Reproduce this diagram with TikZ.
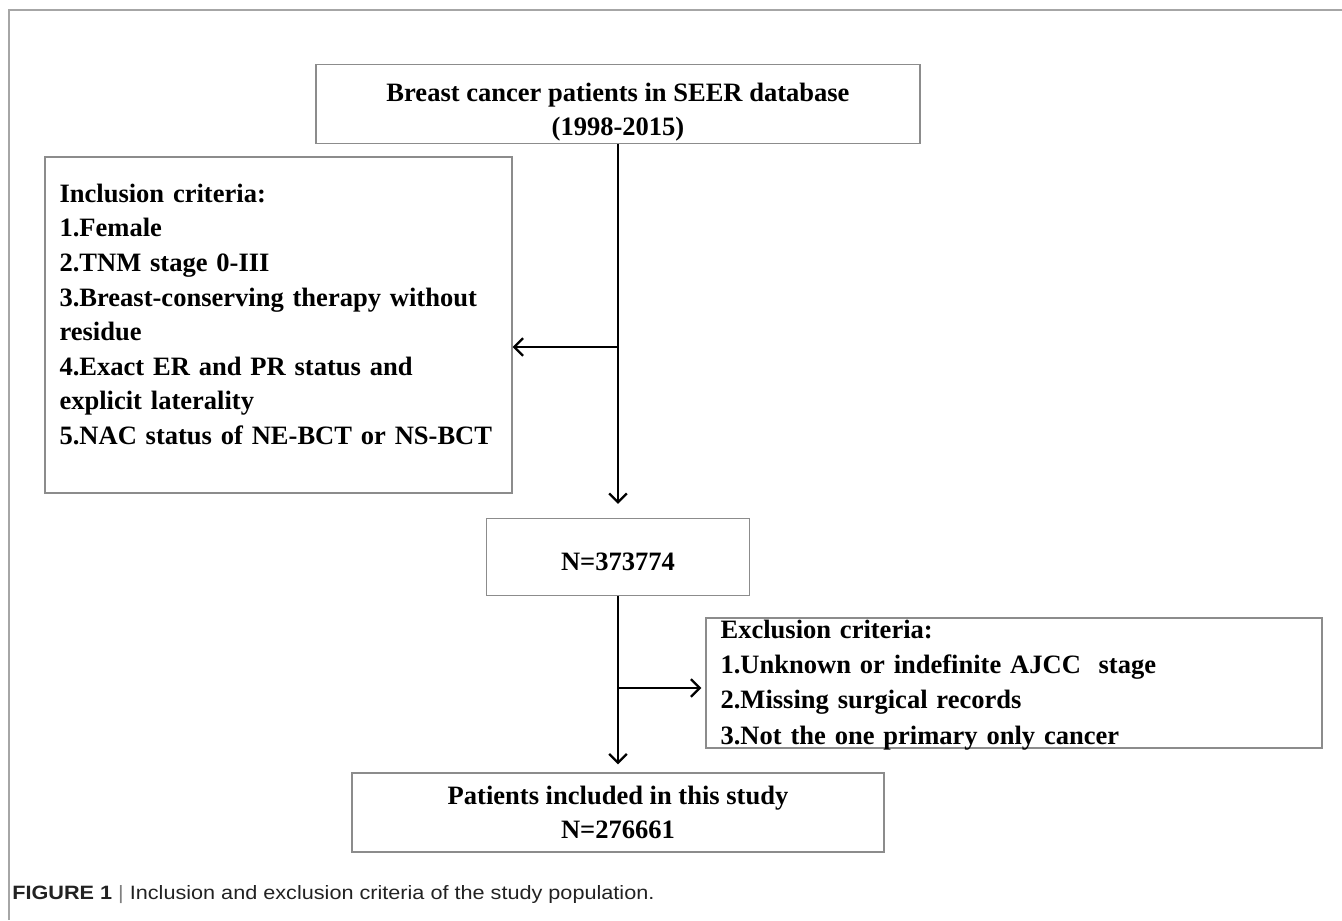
\documentclass[tikz,border=0pt]{standalone}
\usepackage{fontspec}
\setmainfont{Liberation Serif}
\setsansfont{Liberation Sans}[FakeStretch=1.12]
\usetikzlibrary{arrows.meta}
\definecolor{edge}{HTML}{8C8C8C}
\definecolor{frame}{HTML}{A6A6A6}
\definecolor{captext}{HTML}{222222}

\begin{document}
\begin{tikzpicture}[
    x=0.02cm, y=-0.02cm,
    box/.style={draw=edge, line width=0.8pt, inner sep=0pt, font=\bfseries\fontsize{15.1}{19.7}\selectfont, align=center},
    listbox/.style={box, align=left, inner xsep=0.29cm},
    arr/.style={-{Straight Barb[length=5pt,width=10pt,line width=1.3pt]}, line width=1.4pt},
]
\useasboundingbox (0,0) rectangle (1342,920);

% Frame
\draw[frame, line width=1.1pt] (9,920) -- (9,10) -- (1342,10);

% Source
\node[box, minimum width=12.08cm, minimum height=1.58cm] (seer) at (618,104) {\rule{0pt}{16.3pt}Breast cancer patients in SEER database\\(1998-2015)\\[-19.7pt]\mbox{}};

% Inclusion
\node[listbox, text width=8.76cm, minimum height=6.72cm] (incl) at (278.5,325) {Inclusion criteria:\\1.Female\\2.TNM stage 0-III\\3.Breast-conserving therapy without\\residue\\4.Exact ER and PR status and\\explicit laterality\\5.NAC status of NE-BCT or NS-BCT\\[-7.3pt]\mbox{}};

% Count after inclusion
\node[box, minimum width=5.26cm, minimum height=1.54cm] (count) at (618,557) {\rule{0pt}{15.6pt}N=373774};

% Exclusion
\node[listbox, text width=11.74cm, minimum height=2.6cm, font=\bfseries\fontsize{15.1}{20}\selectfont] (excl) at (1014,683) {Exclusion criteria:\\1.Unknown or indefinite AJCC\ \ stage\\2.Missing surgical records\\3.Not the one primary only cancer\\[-19pt]\mbox{}};

% Final cohort
\node[box, minimum width=10.64cm, minimum height=1.58cm] (final) at (618,812.5) {Patients included in this study\\N=276661};

% Caption
\node[anchor=base west, inner sep=0pt, text=captext, font=\sffamily\fontsize{11}{13}\selectfont] (caption) at (12,899) {\textbf{FIGURE 1} {\color{gray}|} Inclusion and exclusion criteria of the study population.};

% Arrows
\coordinate (incljoin) at (618,347);
\coordinate (excljoin) at (618,688);
\draw[arr, shorten >=0.28cm] (seer) -- (count);
\draw[arr] (incljoin) -- (incljoin -| incl.east);
\draw[arr, shorten >=0.16cm] (count) -- (final);
\draw[arr, shorten >=0.08cm] (excljoin) -- (excljoin -| excl.west);
\end{tikzpicture}
\end{document}
